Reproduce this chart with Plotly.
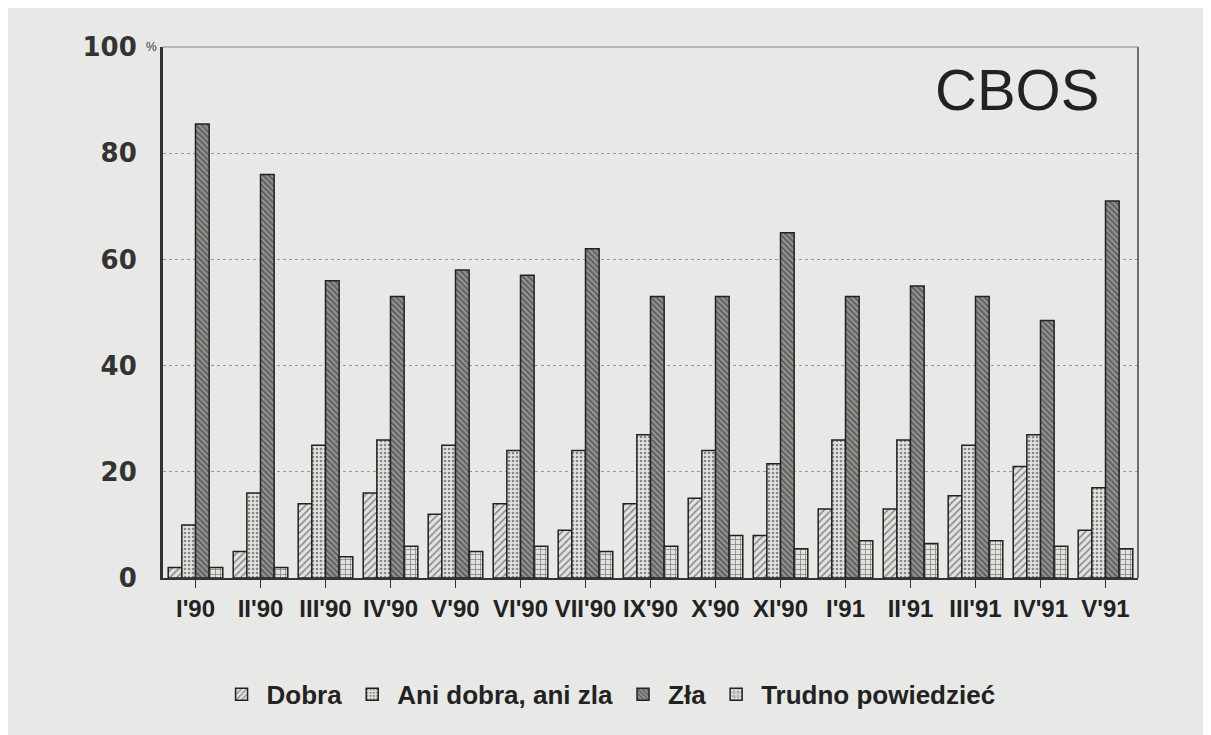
import plotly.graph_objects as go

categories = ["I'90", "II'90", "III'90", "IV'90", "V'90", "VI'90", "VII'90", "IX'90",
              "X'90", "XI'90", "I'91", "II'91", "III'91", "IV'91", "V'91"]
dobra = [2, 5, 14, 16, 12, 14, 9, 14, 15, 8, 13, 13, 15.5, 21, 9]
ani = [10, 16, 25, 26, 25, 24, 24, 27, 24, 21.5, 26, 26, 25, 27, 17]
zla = [85.5, 76, 56, 53, 58, 57, 62, 53, 53, 65, 53, 55, 53, 48.5, 71]
trudno = [2, 2, 4, 6, 5, 6, 5, 6, 8, 5.5, 7, 6.5, 7, 6, 5.5]

series = [
    ("Dobra", dobra, "/", 5, 0.3, "#e2e2de"),
    ("Ani dobra, ani zla", ani, ".", 4, 0.35, "#e2e2de"),
    ("Zła", zla, "\\", 4, 0.55, "#9a9a96"),
    ("Trudno powiedzieć", trudno, "+", 5, 0.3, "#e2e2de"),
]

bg = "#e8e9e6"
fig = go.Figure()
for name, vals, shape, size, sol, bgc in series:
    fig.add_trace(go.Bar(
        x=categories, y=vals, name=name,
        marker=dict(
            color=bgc,
            line=dict(color="#222", width=1.5),
            pattern=dict(shape=shape, fgcolor="#2a2a2a", bgcolor=bgc, size=size, solidity=sol),
        ),
    ))

fig.update_layout(
    width=1211, height=735,
    paper_bgcolor=bg, plot_bgcolor=bg,
    barmode="group", bargap=0.16, bargroupgap=0.0,
    margin=dict(l=155, r=81, t=39, b=165),
    showlegend=True,
    legend=dict(orientation="h", x=0.457, xanchor="center", y=-0.175, yanchor="top",
                font=dict(family="Liberation Sans", size=26, color="#222", weight="bold"),
                itemwidth=40, bgcolor="rgba(0,0,0,0)"),
    font=dict(family="Liberation Sans", color="#222"),
    xaxis=dict(
        tickfont=dict(family="Liberation Sans", size=24, color="#222", weight="bold"),
        showline=True, linecolor="#333", linewidth=1.5,
        ticks="outside", ticklen=8, tickcolor="#333",
        showgrid=False, mirror=False,
    ),
    yaxis=dict(
        range=[0, 100], tickvals=[0, 20, 40, 60, 80, 100],
        ticktext=["0", "20", "40", "60", "80", "100"],
        tickfont=dict(family="DejaVu Sans", size=26, color="#333", weight="bold"),
        showline=True, linecolor="#333", linewidth=3, mirror=False,
        showgrid=True, gridcolor="#999", griddash="dot", gridwidth=1,
        ticks="", ticklabelstandoff=18,
        zeroline=False,
    ),
)
fig.add_shape(type="line", xref="paper", yref="paper", x0=1, x1=1, y0=0, y1=1,
              line=dict(color="#444", width=1.5))
fig.add_shape(type="line", xref="paper", yref="paper", x0=0, x1=1, y0=1, y1=1,
              line=dict(color="#888", width=1))
fig.add_annotation(text="CBOS", xref="paper", yref="paper", x=0.962, y=0.92,
                   xanchor="right", yanchor="middle", showarrow=False,
                   font=dict(family="Liberation Sans", size=58, color="#222"))
fig.add_annotation(text="%", xref="paper", yref="paper", x=-0.004, y=1.0,
                   xanchor="right", yanchor="middle", showarrow=False,
                   font=dict(family="Liberation Sans", size=12, color="#333"))
fig.write_html("out.html")
